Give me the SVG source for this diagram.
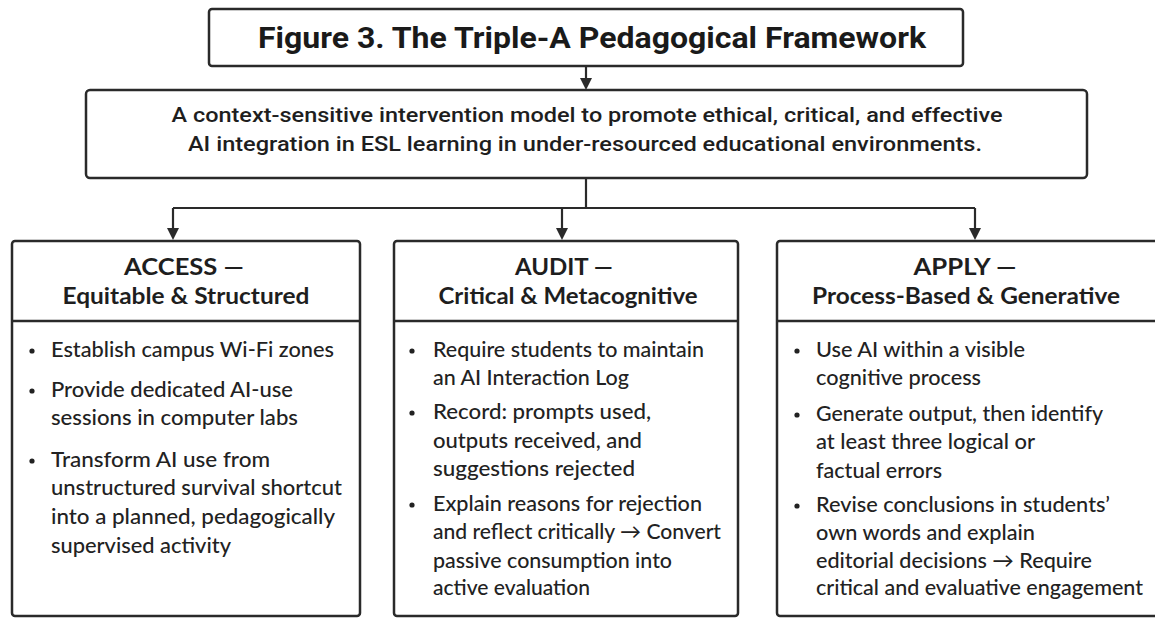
<svg xmlns="http://www.w3.org/2000/svg" width="1155" height="618" viewBox="0 0 1155 618">
<style>
.box{fill:#fff;stroke:#2a2a2a;stroke-width:2.5}
.div{stroke:#2a2a2a;stroke-width:2.5}
.con{fill:none;stroke:#2a2a2a;stroke-width:2.2}
.arr{fill:#2a2a2a}
.title{font-family:Roboto,"Liberation Sans",sans-serif;font-weight:700;font-size:30px;fill:#1a1a1a}
.sub{font-family:Roboto,"Liberation Sans",sans-serif;font-weight:500;font-size:21px;fill:#1e1e1e}
.hd{font-family:Lato,"Liberation Sans",sans-serif;font-weight:700;font-size:23px;fill:#1e1e1e}
.bd{font-family:Lato,"Liberation Sans",sans-serif;font-weight:500;font-size:20.5px;fill:#222}
.dot{fill:#222}
</style>
<rect width="1155" height="618" fill="#fff"/>
<g id="connectors">
<line class="con" x1="586" y1="66" x2="586" y2="80"/>
<path class="con" d="M586,178 V208 M173,208 H975"/>
<line class="con" x1="173" y1="208" x2="173" y2="230"/>
<line class="con" x1="562" y1="208" x2="562" y2="230"/>
<line class="con" x1="975" y1="208" x2="975" y2="230"/>
<path class="arr" d="M580,78 L592,78 L586,90 Z"/>
<path class="arr" d="M167,228 L179,228 L173,240 Z"/>
<path class="arr" d="M556,228 L568,228 L562,240 Z"/>
<path class="arr" d="M969,228 L981,228 L975,240 Z"/>
</g>
<g id="title">
<rect class="box" x="209" y="9" width="754" height="57" rx="3" stroke-width="3"/>
<text class="title" x="592" y="48" text-anchor="middle" textLength="668" lengthAdjust="spacingAndGlyphs">Figure 3. The Triple-A Pedagogical Framework</text>
</g>
<g id="subtitle">
<rect class="box" x="86" y="90" width="1001" height="88" rx="4" stroke-width="3"/>
<text class="sub" x="587" y="122" text-anchor="middle" textLength="831" lengthAdjust="spacingAndGlyphs">A context-sensitive intervention model to promote ethical, critical, and effective</text>
<text class="sub" x="585" y="151" text-anchor="middle" textLength="794" lengthAdjust="spacingAndGlyphs">AI integration in ESL learning in under-resourced educational environments.</text>
</g>
<g id="access">
<rect class="box" x="12" y="241" width="348" height="375" rx="3"/>
<line class="div" x1="12" y1="321" x2="360" y2="321"/>
<text class="hd" x="184" y="275" text-anchor="middle" textLength="120" lengthAdjust="spacingAndGlyphs">ACCESS —</text>
<text class="hd" x="186" y="304" text-anchor="middle" textLength="247" lengthAdjust="spacingAndGlyphs">Equitable &amp; Structured</text>
<circle class="dot" cx="32" cy="351" r="2.6"/>
<circle class="dot" cx="32" cy="391" r="2.6"/>
<circle class="dot" cx="32" cy="461" r="2.6"/>
<g lengthAdjust="spacingAndGlyphs">
<text class="bd" x="51" y="357" textLength="283" lengthAdjust="spacingAndGlyphs">Establish campus Wi-Fi zones</text>
<text class="bd" x="51" y="397" textLength="242" lengthAdjust="spacingAndGlyphs">Provide dedicated AI-use</text>
<text class="bd" x="51" y="425" textLength="247" lengthAdjust="spacingAndGlyphs">sessions in computer labs</text>
<text class="bd" x="51" y="467" textLength="219" lengthAdjust="spacingAndGlyphs">Transform AI use from</text>
<text class="bd" x="51" y="495" textLength="291" lengthAdjust="spacingAndGlyphs">unstructured survival shortcut</text>
<text class="bd" x="51" y="524" textLength="284" lengthAdjust="spacingAndGlyphs">into a planned, pedagogically</text>
<text class="bd" x="51" y="553" textLength="180" lengthAdjust="spacingAndGlyphs">supervised activity</text>
</g>
</g>
<g id="audit">
<rect class="box" x="394" y="241" width="344" height="375" rx="3"/>
<line class="div" x1="394" y1="321" x2="738" y2="321"/>
<text class="hd" x="564" y="275" text-anchor="middle" textLength="98" lengthAdjust="spacingAndGlyphs">AUDIT —</text>
<text class="hd" x="568" y="304" text-anchor="middle" textLength="259" lengthAdjust="spacingAndGlyphs">Critical &amp; Metacognitive</text>
<circle class="dot" cx="412" cy="351" r="2.6"/>
<circle class="dot" cx="412" cy="413" r="2.6"/>
<circle class="dot" cx="412" cy="505" r="2.6"/>
<text class="bd" x="433" y="357" textLength="271" lengthAdjust="spacingAndGlyphs">Require students to maintain</text>
<text class="bd" x="433" y="385" textLength="196" lengthAdjust="spacingAndGlyphs">an AI Interaction Log</text>
<text class="bd" x="433" y="419" textLength="218" lengthAdjust="spacingAndGlyphs">Record: prompts used,</text>
<text class="bd" x="433" y="448" textLength="209" lengthAdjust="spacingAndGlyphs">outputs received, and</text>
<text class="bd" x="433" y="476" textLength="202" lengthAdjust="spacingAndGlyphs">suggestions rejected</text>
<text class="bd" x="433" y="511" textLength="269" lengthAdjust="spacingAndGlyphs">Explain reasons for rejection</text>
<text class="bd" x="433" y="539" textLength="288" lengthAdjust="spacingAndGlyphs">and reflect critically → Convert</text>
<text class="bd" x="433" y="568" textLength="239" lengthAdjust="spacingAndGlyphs">passive consumption into</text>
<text class="bd" x="433" y="595" textLength="157" lengthAdjust="spacingAndGlyphs">active evaluation</text>
</g>
<g id="apply">
<rect class="box" x="777" y="241" width="382" height="375" rx="3"/>
<line class="div" x1="777" y1="321" x2="1159" y2="321"/>
<text class="hd" x="965" y="275" text-anchor="middle" textLength="103" lengthAdjust="spacingAndGlyphs">APPLY —</text>
<text class="hd" x="966" y="304" text-anchor="middle" textLength="308" lengthAdjust="spacingAndGlyphs">Process-Based &amp; Generative</text>
<circle class="dot" cx="797" cy="351" r="2.6"/>
<circle class="dot" cx="797" cy="415" r="2.6"/>
<circle class="dot" cx="797" cy="506" r="2.6"/>
<text class="bd" x="816" y="357" textLength="209" lengthAdjust="spacingAndGlyphs">Use AI within a visible</text>
<text class="bd" x="816" y="385" textLength="165" lengthAdjust="spacingAndGlyphs">cognitive process</text>
<text class="bd" x="816" y="421" textLength="287" lengthAdjust="spacingAndGlyphs">Generate output, then identify</text>
<text class="bd" x="816" y="449" textLength="219" lengthAdjust="spacingAndGlyphs">at least three logical or</text>
<text class="bd" x="816" y="478" textLength="126" lengthAdjust="spacingAndGlyphs">factual errors</text>
<text class="bd" x="816" y="512" textLength="294" lengthAdjust="spacingAndGlyphs">Revise conclusions in students’</text>
<text class="bd" x="816" y="540" textLength="219" lengthAdjust="spacingAndGlyphs">own words and explain</text>
<text class="bd" x="816" y="568" textLength="276" lengthAdjust="spacingAndGlyphs">editorial decisions → Require</text>
<text class="bd" x="816" y="595" textLength="327" lengthAdjust="spacingAndGlyphs">critical and evaluative engagement</text>
</g>
</svg>
